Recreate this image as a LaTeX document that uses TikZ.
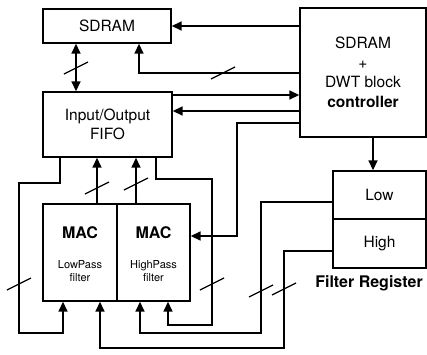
\documentclass[tikz,border=0pt]{standalone}
\usepackage{fontspec}
\setmainfont{TeX Gyre Heros}
\usetikzlibrary{arrows.meta}
\begin{document}
\begin{tikzpicture}[x=1pt,y=-1pt,
  box/.style={draw,line width=1.4pt,inner sep=0pt,align=center,font=\fontsize{15.5}{19.5}\selectfont},
  wire/.style={line width=1.6pt},
  >={Triangle[length=10pt,width=9pt]},
  txt/.style={inner sep=0pt,align=center},
  busmark/.pic={\draw[line width=1.3pt] (-12,6) -- (12,-6);}]
\useasboundingbox (0,0) rectangle (427,354);
% boxes
\node[box,minimum width=128pt,minimum height=34pt] (sdram) at (107,26) {SDRAM};
\node[box,minimum width=129pt,minimum height=65pt] (fifo) at (107.5,124.5) {Input/Output\\FIFO};
\node[box,minimum width=126pt,minimum height=129pt] (ctrl) at (363,72.5) {SDRAM\\+\\DWT block\\\textbf{controller}};
\node[box,minimum width=93pt,minimum height=48pt] (low) at (379.5,195) {Low};
\node[box,minimum width=93pt,minimum height=49pt] (high) at (379.5,243.5) {High};
\node[box,minimum width=74pt,minimum height=97pt] (macl) at (80,252.5) {};
\node[box,minimum width=73pt,minimum height=97pt] (mach) at (153.5,252.5) {};
% texts
\node[txt,font=\fontsize{16}{19}\bfseries] (macltitle) at (80,233) {MAC};
\node[txt,font=\fontsize{11}{13}\selectfont] (macldesc) at (80,271) {LowPass\\filter};
\node[txt,font=\fontsize{16}{19}\bfseries] (machtitle) at (153.5,233) {MAC};
\node[txt,font=\fontsize{11}{13}\selectfont] (machdesc) at (153.5,271) {HighPass\\filter};
\node[txt,font=\fontsize{16}{19}\bfseries] (freg) at (369,283) {Filter Register};
% helper coordinates
\foreach \v in {19,60,63,76,97,100,136,139,140,156,168,212,237,261,284,373}
  {\coordinate (x\v) at (\v,0);}
\foreach \v in {73,95,111,123,179,183,202,236,251,325,333,348}
  {\coordinate (y\v) at (0,\v);}
% connectors
\draw[wire,<->] (sdram.south -| x76) -- (fifo.north -| x76);
\draw[wire,->] (ctrl.west |- sdram.east) -- (sdram.east);
\draw[wire,->] (ctrl.west |- y73) -| (sdram.south -| x139);
\draw[wire,->] (fifo.east |- y95) -- (ctrl.west |- y95);
\draw[wire,->] (ctrl.west |- y111) -- (fifo.east |- y111);
\draw[wire,->] (ctrl.west |- y123) -| (x237 |- y236) -- (mach.east |- y236);
\draw[wire,->] (fifo.south -| x60) -- (x60 |- y183) -| (x19 |- y333) -| (macl.south -| x63);
\draw[wire,->] (macl.north -| x97) -- (fifo.south -| x97);
\draw[wire,->] (mach.north -| x136) -- (fifo.south -| x136);
\draw[wire,->] (fifo.south -| x156) -- (x156 |- y179) -| (x212 |- y325) -| (mach.south -| x168);
\draw[wire,->] (low.west |- y202) -| (x261 |- y333) -| (mach.south -| x140);
\draw[wire,->] (high.west |- y251) -| (x284 |- y348) -| (macl.south -| x100);
\draw[wire,->] (ctrl.south -| x373) -- (low.north -| x373);
% bus marks
\pic at (76,68) {busmark};
\pic at (223,73) {busmark};
\pic at (97,188) {busmark};
\pic at (136,184) {busmark};
\pic at (19,284) {busmark};
\pic at (212,284) {busmark};
\pic at (261,291) {busmark};
\pic at (284,289) {busmark};
\end{tikzpicture}
\end{document}
